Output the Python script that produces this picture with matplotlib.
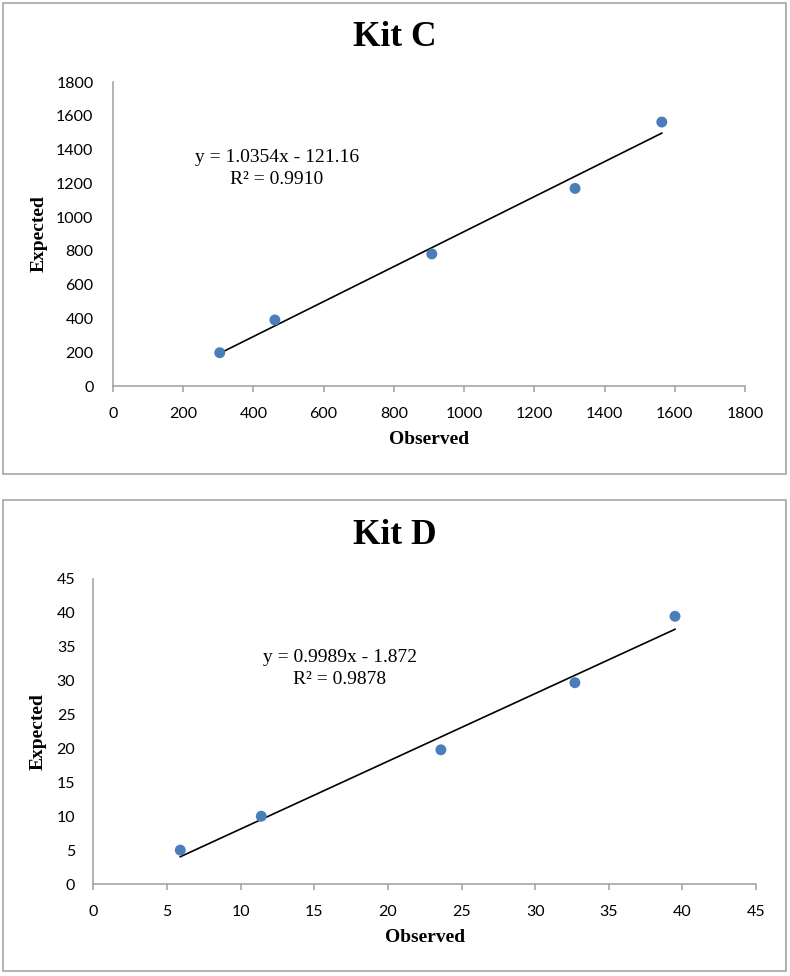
import matplotlib
matplotlib.use("Agg")
import matplotlib.pyplot as plt
import numpy as np
from matplotlib.patches import Rectangle

# ---- Data ----
kitc_observed = [304, 461, 908, 1316, 1563]
kitc_expected = [197, 391, 782, 1170, 1563]
kitc_slope, kitc_intercept = 1.0354, -121.16
kitc_eq = ["y = 1.0354x - 121.16", "R² = 0.9910"]
kitc_ticks = [0, 200, 400, 600, 800, 1000, 1200, 1400, 1600, 1800]

kitd_observed = [5.9, 11.4, 23.6, 32.7, 39.5]
kitd_expected = [5.0, 10.0, 19.8, 29.7, 39.5]
kitd_slope, kitd_intercept = 0.9989, -1.872
kitd_eq = ["y = 0.9989x - 1.872", "R² = 0.9878"]
kitd_ticks = [0, 5, 10, 15, 20, 25, 30, 35, 40, 45]

W, H = 790, 976
fig = plt.figure(figsize=(W / 100, H / 100), dpi=100)

SERIF = ["Liberation Serif", "DejaVu Serif"]
TICKF = ["Lato", "DejaVu Sans"]
GRAY = "#a6a6a6"
BLUE = "#4a7ebb"

def fx(px):
    return px / W

def fy(py):
    return 1 - py / H

def border(x0, y0, x1, y1):
    r = Rectangle((fx(x0), fy(y1)), fx(x1) - fx(x0), fy(y0) - fy(y1),
                  transform=fig.transFigure, fill=False, edgecolor=GRAY,
                  linewidth=1.2)
    fig.patches.append(r)

def panel(rect_px, obs, exp, slope, icpt, ticks, eq, title, title_y,
          eq_xy, ylab_x, xlab_y, ypad):
    l, t, r, b = rect_px
    ax = fig.add_axes([fx(l), fy(b), fx(r) - fx(l), fy(t) - fy(b)])
    ax.set_xlim(ticks[0], ticks[-1])
    ax.set_ylim(ticks[0], ticks[-1])
    ax.set_xticks(ticks)
    ax.set_yticks(ticks)
    for s in ["top", "right"]:
        ax.spines[s].set_visible(False)
    for s in ["left", "bottom"]:
        ax.spines[s].set_color(GRAY)
        ax.spines[s].set_linewidth(1.2)
    ax.tick_params(axis="x", length=4, width=1.2, color=GRAY, pad=11,
                   labelsize=11.5)
    ax.tick_params(axis="y", length=0, pad=ypad, labelsize=11.5)
    for lab in ax.get_xticklabels() + ax.get_yticklabels():
        lab.set_family(TICKF)
    ax.scatter(obs, exp, s=62, color=BLUE, zorder=3, clip_on=False,
               edgecolors="none")
    xs = np.array([min(obs), max(obs)])
    ax.plot(xs, slope * xs + icpt, color="black", linewidth=1.2, zorder=2)
    ax.patch.set_alpha(0)
    fig.text(fx(395), fy(title_y), title,
             family=SERIF, weight="bold", fontsize=25.5,
             ha="center", va="center")
    fig.text(fx(eq_xy[0]), fy(eq_xy[1]), eq[0], family=SERIF, fontsize=14,
             ha="center", va="center")
    fig.text(fx(eq_xy[0]), fy(eq_xy[1] + 22), eq[1], family=SERIF,
             fontsize=14, ha="center", va="center")
    fig.text(fx(ylab_x), fy((t + b) / 2), "Expected", family=SERIF,
             weight="bold", fontsize=14, rotation=90, ha="center",
             va="center")
    fig.text(fx((l + r) / 2), fy(xlab_y), "Observed", family=SERIF,
             weight="bold", fontsize=14, ha="center", va="center")
    return ax

border(3, 3, 786, 474)
border(3, 500, 786, 971)

panel((113, 82, 745, 386), kitc_observed, kitc_expected, kitc_slope,
      kitc_intercept, kitc_ticks, kitc_eq, "Kit C", 38, (277, 157), 39,
      440, 14)
panel((93.4, 579, 756, 884), kitd_observed, kitd_expected, kitd_slope,
      kitd_intercept, kitd_ticks, kitd_eq, "Kit D", 535, (340, 657), 38,
      937, 13)

fig.savefig("out.png", dpi=100)
